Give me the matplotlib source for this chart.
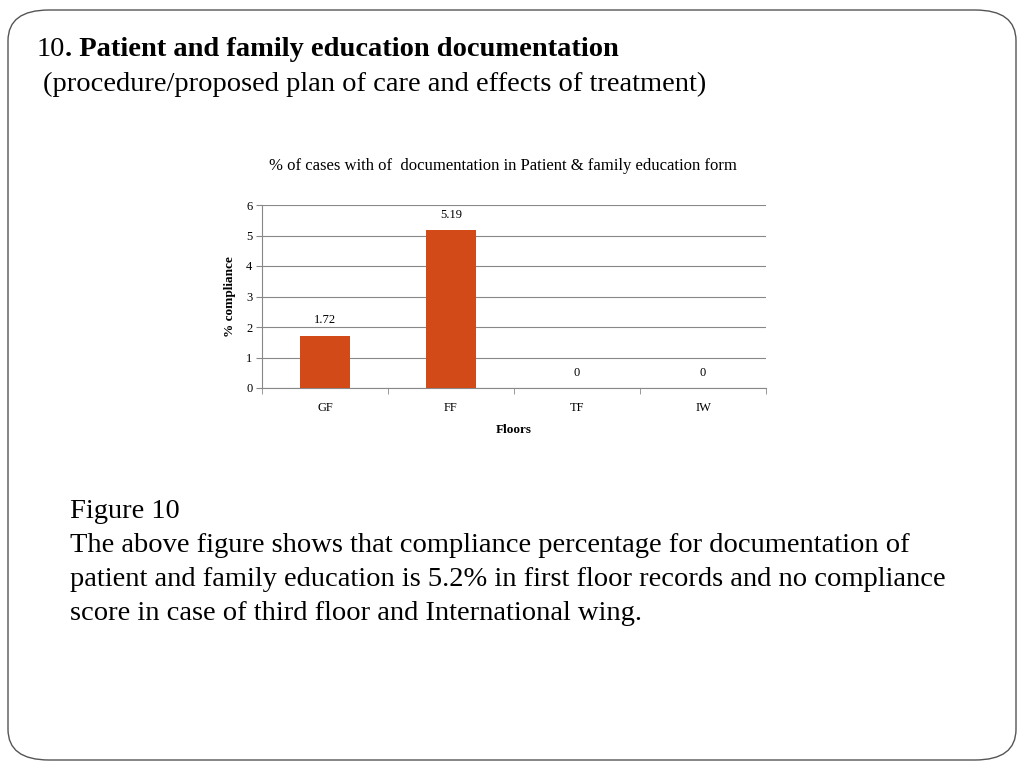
import matplotlib.pyplot as plt
from matplotlib.patches import FancyBboxPatch
from matplotlib.transforms import offset_copy

floors = ["GF", "FF", "TF", "IW"]
compliance = [1.72, 5.19, 0, 0]
value_labels = ["1.72", "5.19", "0", "0"]

plt.rcParams['font.family'] = ['Liberation Serif', 'DejaVu Serif']

fig = plt.figure(figsize=(10.24, 7.68), dpi=100)

# rounded slide frame
frame = FancyBboxPatch((8 / 1024, 8 / 768), 1008 / 1024, 750 / 768,
                       boxstyle="round,pad=0,rounding_size=0.04",
                       transform=fig.transFigure, fill=False,
                       edgecolor='#555555', linewidth=1.0)
fig.patches.append(frame)

# heading: "10" regular, rest bold, placed right after it
num = fig.text(37 / 1024, 1 - 49 / 768, "10", fontsize=20.5, va='center', ha='left')
fig.canvas.draw()
bb = num.get_window_extent()
fig.text(bb.x1 / 1024, 1 - 49 / 768, ". Patient and family education documentation",
         fontsize=20.5, fontweight='bold', va='center', ha='left')
fig.text(43 / 1024, 1 - 84 / 768,
         "(procedure/proposed plan of care and effects of treatment)",
         fontsize=20.5, va='center', ha='left')

# chart
ax = fig.add_axes([262 / 1024, 1 - 388 / 768, 504 / 1024, 183 / 768])
x = range(len(floors))
ax.bar(x, compliance, width=0.4, color='#D24A18', zorder=3)
ax.set_xlim(-0.5, len(floors) - 0.5)
ax.set_ylim(0, 6)
ax.set_yticks(range(0, 7))
ax.grid(axis='y', color='#888888', linewidth=0.8, zorder=0)
ax.set_xticks(list(x))
ax.set_xticklabels(floors, fontsize=9)
ax.tick_params(axis='x', length=0, pad=10)
ax.set_xticks([i - 0.5 for i in range(len(floors) + 1)], minor=True)
ax.tick_params(axis='x', which='minor', length=4, color='#888888')
ax.tick_params(axis='y', labelsize=9, length=4, color='#888888', pad=3)
for side in ['top', 'right']:
    ax.spines[side].set_visible(False)
for side in ['left', 'bottom']:
    ax.spines[side].set_color('#888888')
    ax.spines[side].set_linewidth(0.8)

for i, (v, lab) in enumerate(zip(compliance, value_labels)):
    ax.text(i, v + 0.3, lab, ha='center', va='bottom', fontsize=9)

ax.set_xlabel("Floors", fontsize=9.5, fontweight='bold', labelpad=7)
ax.set_ylabel("% compliance", fontsize=9.5, fontweight='bold', labelpad=7)
fig.text(503 / 1024, 1 - 166 / 768,
         "% of cases with of  documentation in Patient & family education form",
         fontsize=12, ha='center', va='center')

# caption
caption = ["Figure 10",
           "The above figure shows that compliance percentage for documentation of",
           "patient and family education is 5.2% in first floor records and no compliance",
           "score in case of third floor and International wing."]
for k, line in enumerate(caption):
    fig.text(70 / 1024, 1 - (511 + 34 * k) / 768, line, fontsize=20.5,
             ha='left', va='center')

fig.savefig("out.png", dpi=100)
